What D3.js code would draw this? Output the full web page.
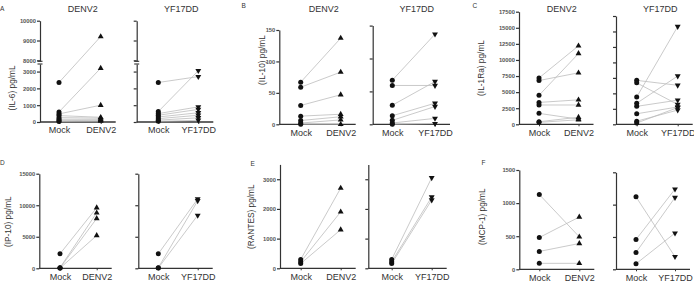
<!DOCTYPE html>
<html>
<head>
<meta charset="utf-8">
<script src="https://cdn.jsdelivr.net/npm/d3@7"></script>
<style>
  body { margin: 0; background: #fff; }
  svg { display: block; font-family: Arial, "Liberation Sans", Helvetica, sans-serif; }
</style>
</head>
<body>
<div id="graph"></div>
<script>
// paired donor values, pg/mL (mock vs infected)
var il6MockD   = [2350, 600, 480, 380, 260, 160, 80, 30],
	il6Denv2   = [9200, 3200, 1000, 280, 230, 160, 100, 50],
	il6MockY   = [2350, 620, 500, 400, 300, 200, 110, 40],
	il6Yf      = [2700, 3050, 900, 750, 550, 400, 250, 100];

var il10MockD  = [67, 59, 30, 13, 6, 2, 0],
	il10Denv2  = [137, 83, 47, 16, 12, 7, 0],
	il10MockY  = [67, 59, 29, 13, 6, 2, 0],
	il10Yf     = [137, 59, 65, 32, 27, 9, 1];

var il1raMockD = [7200, 6800, 4500, 3400, 3000, 1700, 400, 300],
	il1raDenv2 = [12200, 8000, 11000, 3800, 3000, 800, 1100, 700],
	il1raMockY = [7100, 6700, 4400, 3400, 2900, 1700, 500, 200],
	il1raYf    = [6300, 3200, 15800, 7800, 3900, 2800, 2300, 2700];

var ip10MockD  = [2300, 100, 60, 30],
	ip10Denv2  = [9600, 8800, 7900, 5200],
	ip10MockY  = [2300, 100, 50],
	ip10Yf     = [11000, 10700, 8400];

var rantesMockD = [300, 220, 160],
	rantesDenv2 = [2700, 1900, 1300],
	rantesMockY = [300, 220, 160],
	rantesYf    = [3050, 2400, 2300];

var mcp1MockD  = [1130, 480, 270, 90],
	mcp1Denv2  = [490, 790, 390, 90],
	mcp1MockY  = [1120, 460, 260, 85],
	mcp1Yf     = [195, 1240, 1110, 560];

var letters = ["A", "B", "C", "D", "E", "F"],
	yTitles = ["(IL-6) pg/mL", "(IL-10) pg/mL", "(IL-1Ra) pg/mL", "(IP-10) pg/mL", "(RANTES) pg/mL", "(MCP-1) pg/mL"],
	viruses = ["DENV2", "YF17DD"];

var ticksIL6low = [0, 1000, 2000, 3000],
	ticksIL6high = [8000, 9000, 10000],
	ticksIL10 = [0, 50, 100, 150],
	ticksIL1ra = [0, 2500, 5000, 7500, 10000, 12500, 15000, 17500],
	ticksIP10 = [0, 5000, 10000, 15000],
	ticksRantes = [0, 1000, 2000, 3000],
	ticksMCP1 = [0, 500, 1000, 1500];

// layout: where each small plot sits
var panels = [
	{ letter: [0, 11], title: [11.7, 88], y0: 122, max: 10000, ticks: null,
	  data: [[il6MockD, il6Denv2], [il6MockY, il6Yf]],
	  subs: [{ax: 40, m: 59, v: 100.7, top: 20.7}, {ax: 136.7, m: 158.3, v: 198.3, top: 20.7}] },
	{ letter: [241.5, 7.5], title: [262.3, 60], y0: 124.3, max: 150, ticks: ticksIL10,
	  data: [[il10MockD, il10Denv2], [il10MockY, il10Yf]],
	  subs: [{ax: 279.3, m: 300.7, v: 340.7, top: 30}, {ax: 372.7, m: 392.3, v: 435, top: 25.6}] },
	{ letter: [472.5, 7.5], title: [480.7, 68], y0: 124.3, max: 17500, ticks: ticksIL1ra,
	  data: [[il1raMockD, il1raDenv2], [il1raMockY, il1raYf]],
	  subs: [{ax: 519, m: 539, v: 578.5, top: 11.7}, {ax: 616, m: 636.7, v: 677.7, top: 16}] },
	{ letter: [0, 165], title: [8, 221.7], y0: 268.3, max: 15000, ticks: ticksIP10,
	  data: [[ip10MockD, ip10Denv2], [ip10MockY, ip10Yf]],
	  subs: [{ax: 39.3, m: 60, v: 96.7, top: 173.7}, {ax: 138.3, m: 158.3, v: 197.7, top: 173.7}] },
	{ letter: [250.5, 166], title: [250.7, 216.7], y0: 268.3, max: 3500, ticks: ticksRantes,
	  data: [[rantesMockD, rantesDenv2], [rantesMockY, rantesYf]],
	  subs: [{ax: 280, m: 300.7, v: 340.7, top: 164.4}, {ax: 368.3, m: 391.7, v: 431.7, top: 164.4}] },
	{ letter: [481.5, 165], title: [481.7, 216.7], y0: 269.3, max: 1500, ticks: ticksMCP1,
	  data: [[mcp1MockD, mcp1Denv2], [mcp1MockY, mcp1Yf]],
	  subs: [{ax: 519.3, m: 539.3, v: 579.3, top: 170}, {ax: 616, m: 636, v: 675, top: 172.3}] }
];

var axisColor = "#333", lineColor = "#bdbdbd", markColor = "#111";

var svg = d3.select("#graph").append("svg")
	.attr("width", 694)
	.attr("height", 283);

svg.append("rect").attr("width", 694).attr("height", 283).attr("fill", "#fff");

function styleAxis(g){
	g.selectAll("path, line").attr("stroke", axisColor).attr("stroke-width", 1.2);
	g.selectAll("text").attr("fill", "#555").style("font-size", "5.8px").style("font-weight", "bold");
}

panels.forEach(function(p, i){
	var pg = svg.append("g").attr("class", "panel-" + letters[i]);

	pg.append("text")
		.attr("x", p.letter[0]).attr("y", p.letter[1])
		.attr("fill", "#333").style("font-size", "6.5px")
		.text(letters[i]);

	pg.append("text")
		.attr("transform", "translate(" + p.title[0] + "," + p.title[1] + ") rotate(-90)")
		.attr("text-anchor", "middle").attr("dy", "0.35em")
		.attr("fill", "#333").style("font-size", "8.3px")
		.text(yTitles[i]);

	p.subs.forEach(function(s, j){
		var g = pg.append("g"),
			virus = viruses[j],
			yf = j == 1;

		var x = d3.scalePoint().domain(["Mock", virus]).range([s.m, s.v]);

		var y, axes = [];
		if (p.ticks === null){
			// broken axis for IL-6
			var low = d3.scaleLinear().domain([0, 3450]).range([p.y0, 64]),
				high = d3.scaleLinear().domain([7950, 10000]).range([61.3, s.top]);
			y = function(v){ return v > 3450 ? high(v) : low(v); };
			axes.push([low, ticksIL6low]);
			axes.push([high, ticksIL6high]);
		} else {
			var lin = d3.scaleLinear().domain([0, p.max]).range([p.y0, s.top]);
			y = lin;
			axes.push([lin, p.ticks]);
		}

		axes.forEach(function(a){
			var ax = d3.axisLeft(a[0]).tickValues(a[1]).tickSize(3).tickSizeOuter(0).tickPadding(1)
				.tickFormat(yf ? "" : d3.format("d"));
			g.append("g")
				.attr("transform", "translate(" + s.ax + ",0)")
				.call(ax)
				.call(styleAxis);
		});

		if (p.ticks === null){
			[61.3, 64].forEach(function(by){
				g.append("line")
					.attr("x1", s.ax - 2.5).attr("x2", s.ax + 2.5)
					.attr("y1", by).attr("y2", by)
					.attr("stroke", axisColor).attr("stroke-width", 1.1);
			});
		}

		// x axis
		g.append("line")
			.attr("x1", s.ax).attr("x2", s.v + 15)
			.attr("y1", p.y0).attr("y2", p.y0)
			.attr("stroke", axisColor).attr("stroke-width", 1.3);

		var xg = g.append("g")
			.attr("transform", "translate(0," + p.y0 + ")")
			.call(d3.axisBottom(x).tickSize(2).tickPadding(3));
		xg.select(".domain").remove();
		xg.selectAll("line").attr("stroke", axisColor).attr("stroke-width", 1);
		xg.selectAll("text").attr("fill", "#333").style("font-size", "9px");

		if (i < 3){
			g.append("text")
				.attr("x", (s.m + s.v) / 2 + 3).attr("y", 11.5)
				.attr("text-anchor", "middle")
				.attr("fill", "#333").style("font-size", "9px")
				.text(virus);
		}

		var mock = p.data[j][0], inf = p.data[j][1];

		g.selectAll("line.pair")
			.data(mock).enter()
			.append("line")
			.attr("class", "pair")
			.attr("x1", x("Mock"))
			.attr("y1", function(d){ return y(d); })
			.attr("x2", x(virus))
			.attr("y2", function(d, k){ return y(inf[k]); })
			.attr("stroke", lineColor)
			.attr("stroke-width", 0.8);

		g.selectAll("circle")
			.data(mock).enter()
			.append("circle")
			.attr("cx", x("Mock"))
			.attr("cy", function(d){ return y(d); })
			.attr("r", 2.5)
			.attr("fill", markColor);

		var tri = d3.symbol().type(d3.symbolTriangle).size(15);
		g.selectAll("path.tri")
			.data(inf).enter()
			.append("path")
			.attr("class", "tri")
			.attr("d", tri)
			.attr("transform", function(d){
				return "translate(" + x(virus) + "," + y(d) + ")" + (yf ? " rotate(180)" : "");
			})
			.attr("fill", markColor);
	});
});
</script>
</body>
</html>
